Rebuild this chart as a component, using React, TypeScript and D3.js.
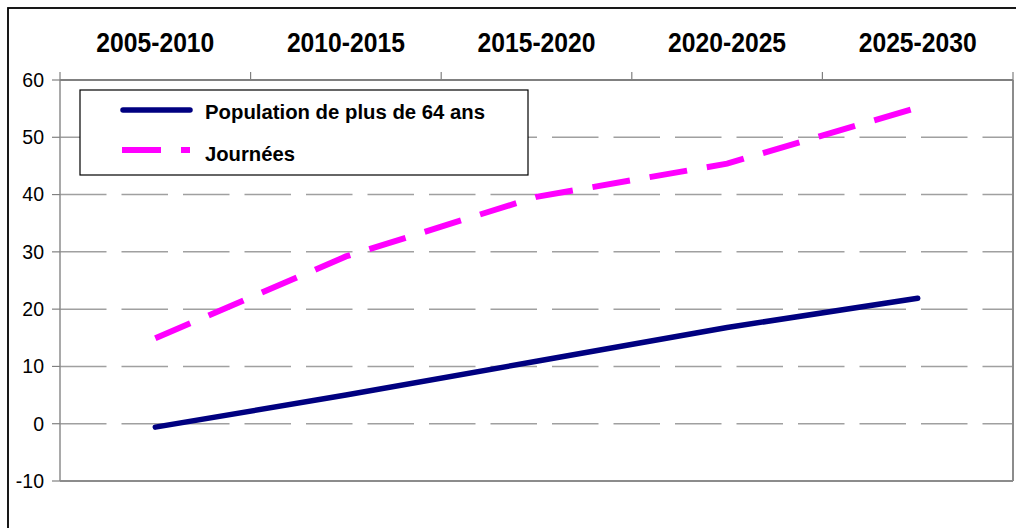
import React from "react";
import * as d3 from "d3";

// Periods shown along the top axis
const periods = ["2005-2010", "2010-2015", "2015-2020", "2020-2025", "2025-2030"];
// Growth series (%)
const population = [-0.6, 5.0, 10.9, 16.8, 21.9];
const journees = [14.9, 29.2, 39.6, 45.4, 55.2];
const yTicks = [-10, 0, 10, 20, 30, 40, 50, 60];

const W = 1016;
const H = 528;
const plot = { left: 60, top: 80, right: 1013, bottom: 481 };

export default function App() {
  const x = d3
    .scaleBand<string>()
    .domain(periods)
    .range([plot.left, plot.right])
    .paddingInner(0)
    .paddingOuter(0);
  const y = d3.scaleLinear().domain([-10, 60]).range([plot.bottom, plot.top]);
  const cx = (p: string) => (x(p) as number) + x.bandwidth() / 2;

  const line = d3
    .line<number>()
    .x((_, i) => cx(periods[i]))
    .y((v) => y(v));

  const boundaries = periods.map((p) => x(p) as number).concat([plot.right]);
  const font = "'Liberation Sans', Arial, sans-serif";

  return (
    <svg
      width={W}
      height={H}
      style={{ position: "absolute", left: 0, top: 0, background: "#fff" }}
      fontFamily={font}
    >
      {/* chart frame, extending past the viewport */}
      <rect x={8} y={8} width={1200} height={700} fill="#fff" stroke="#000" strokeWidth={1.8} />

      {/* dashed gridlines */}
      {yTicks
        .filter((t) => t > -10 && t < 60)
        .map((t) => (
          <line
            key={"g" + t}
            x1={plot.left}
            x2={plot.right}
            y1={y(t)}
            y2={y(t)}
            stroke="#a0a0a0"
            strokeWidth={1.5}
            strokeDasharray="46.5 15"
          />
        ))}

      {/* plot border */}
      <line x1={plot.left} x2={plot.left} y1={plot.top} y2={plot.bottom} stroke="#8c8c8c" strokeWidth={1.5} />
      <line x1={plot.right} x2={plot.right} y1={plot.top} y2={plot.bottom} stroke="#8c8c8c" strokeWidth={2} />
      <line x1={plot.left} x2={plot.right} y1={plot.bottom} y2={plot.bottom} stroke="#8c8c8c" strokeWidth={2} />
      <line x1={plot.left} x2={plot.right} y1={plot.top} y2={plot.top} stroke="#808080" strokeWidth={2} />

      {/* y ticks and labels */}
      {yTicks.map((t) => (
        <g key={"t" + t}>
          <line x1={52} x2={plot.left} y1={y(t)} y2={y(t)} stroke="#808080" strokeWidth={1.2} />
          <text x={44} y={y(t)} dy="0.35em" textAnchor="end" fontSize={19.5} fill="#000">
            {t}
          </text>
        </g>
      ))}

      {/* top category ticks */}
      {boundaries.map((b, i) => (
        <line key={"c" + i} x1={b} x2={b} y1={72} y2={plot.top} stroke="#808080" strokeWidth={1.2} />
      ))}

      {/* category labels */}
      {periods.map((p) => (
        <text
          key={p}
          x={cx(p)}
          y={52}
          textAnchor="middle"
          fontSize={27}
          fontWeight="bold"
          textLength={118}
          lengthAdjust="spacingAndGlyphs"
          fill="#000"
        >
          {p}
        </text>
      ))}

      {/* series */}
      <path d={line(journees) || ""} fill="none" stroke="#ff00ff" strokeWidth={6} strokeDasharray="38 20" />
      <path
        d={line(population) || ""}
        fill="none"
        stroke="#000080"
        strokeWidth={5.5}
        strokeLinecap="round"
        strokeLinejoin="round"
      />

      {/* legend */}
      <rect x={80} y={90} width={448} height={85} fill="#fff" stroke="#000" strokeWidth={1.2} />
      <line x1={123} x2={190} y1={110} y2={110} stroke="#000080" strokeWidth={5.5} strokeLinecap="round" />
      <text
        x={205}
        y={119}
        fontSize={19.5}
        fontWeight="bold"
        textLength={280}
        lengthAdjust="spacingAndGlyphs"
        fill="#000"
      >
        Population de plus de 64 ans
      </text>
      <line x1={122} x2={190} y1={150} y2={150} stroke="#ff00ff" strokeWidth={6} strokeDasharray="39 20" />
      <text
        x={205}
        y={161}
        fontSize={19.5}
        fontWeight="bold"
        textLength={90}
        lengthAdjust="spacingAndGlyphs"
        fill="#000"
      >
        Journées
      </text>
    </svg>
  );
}
